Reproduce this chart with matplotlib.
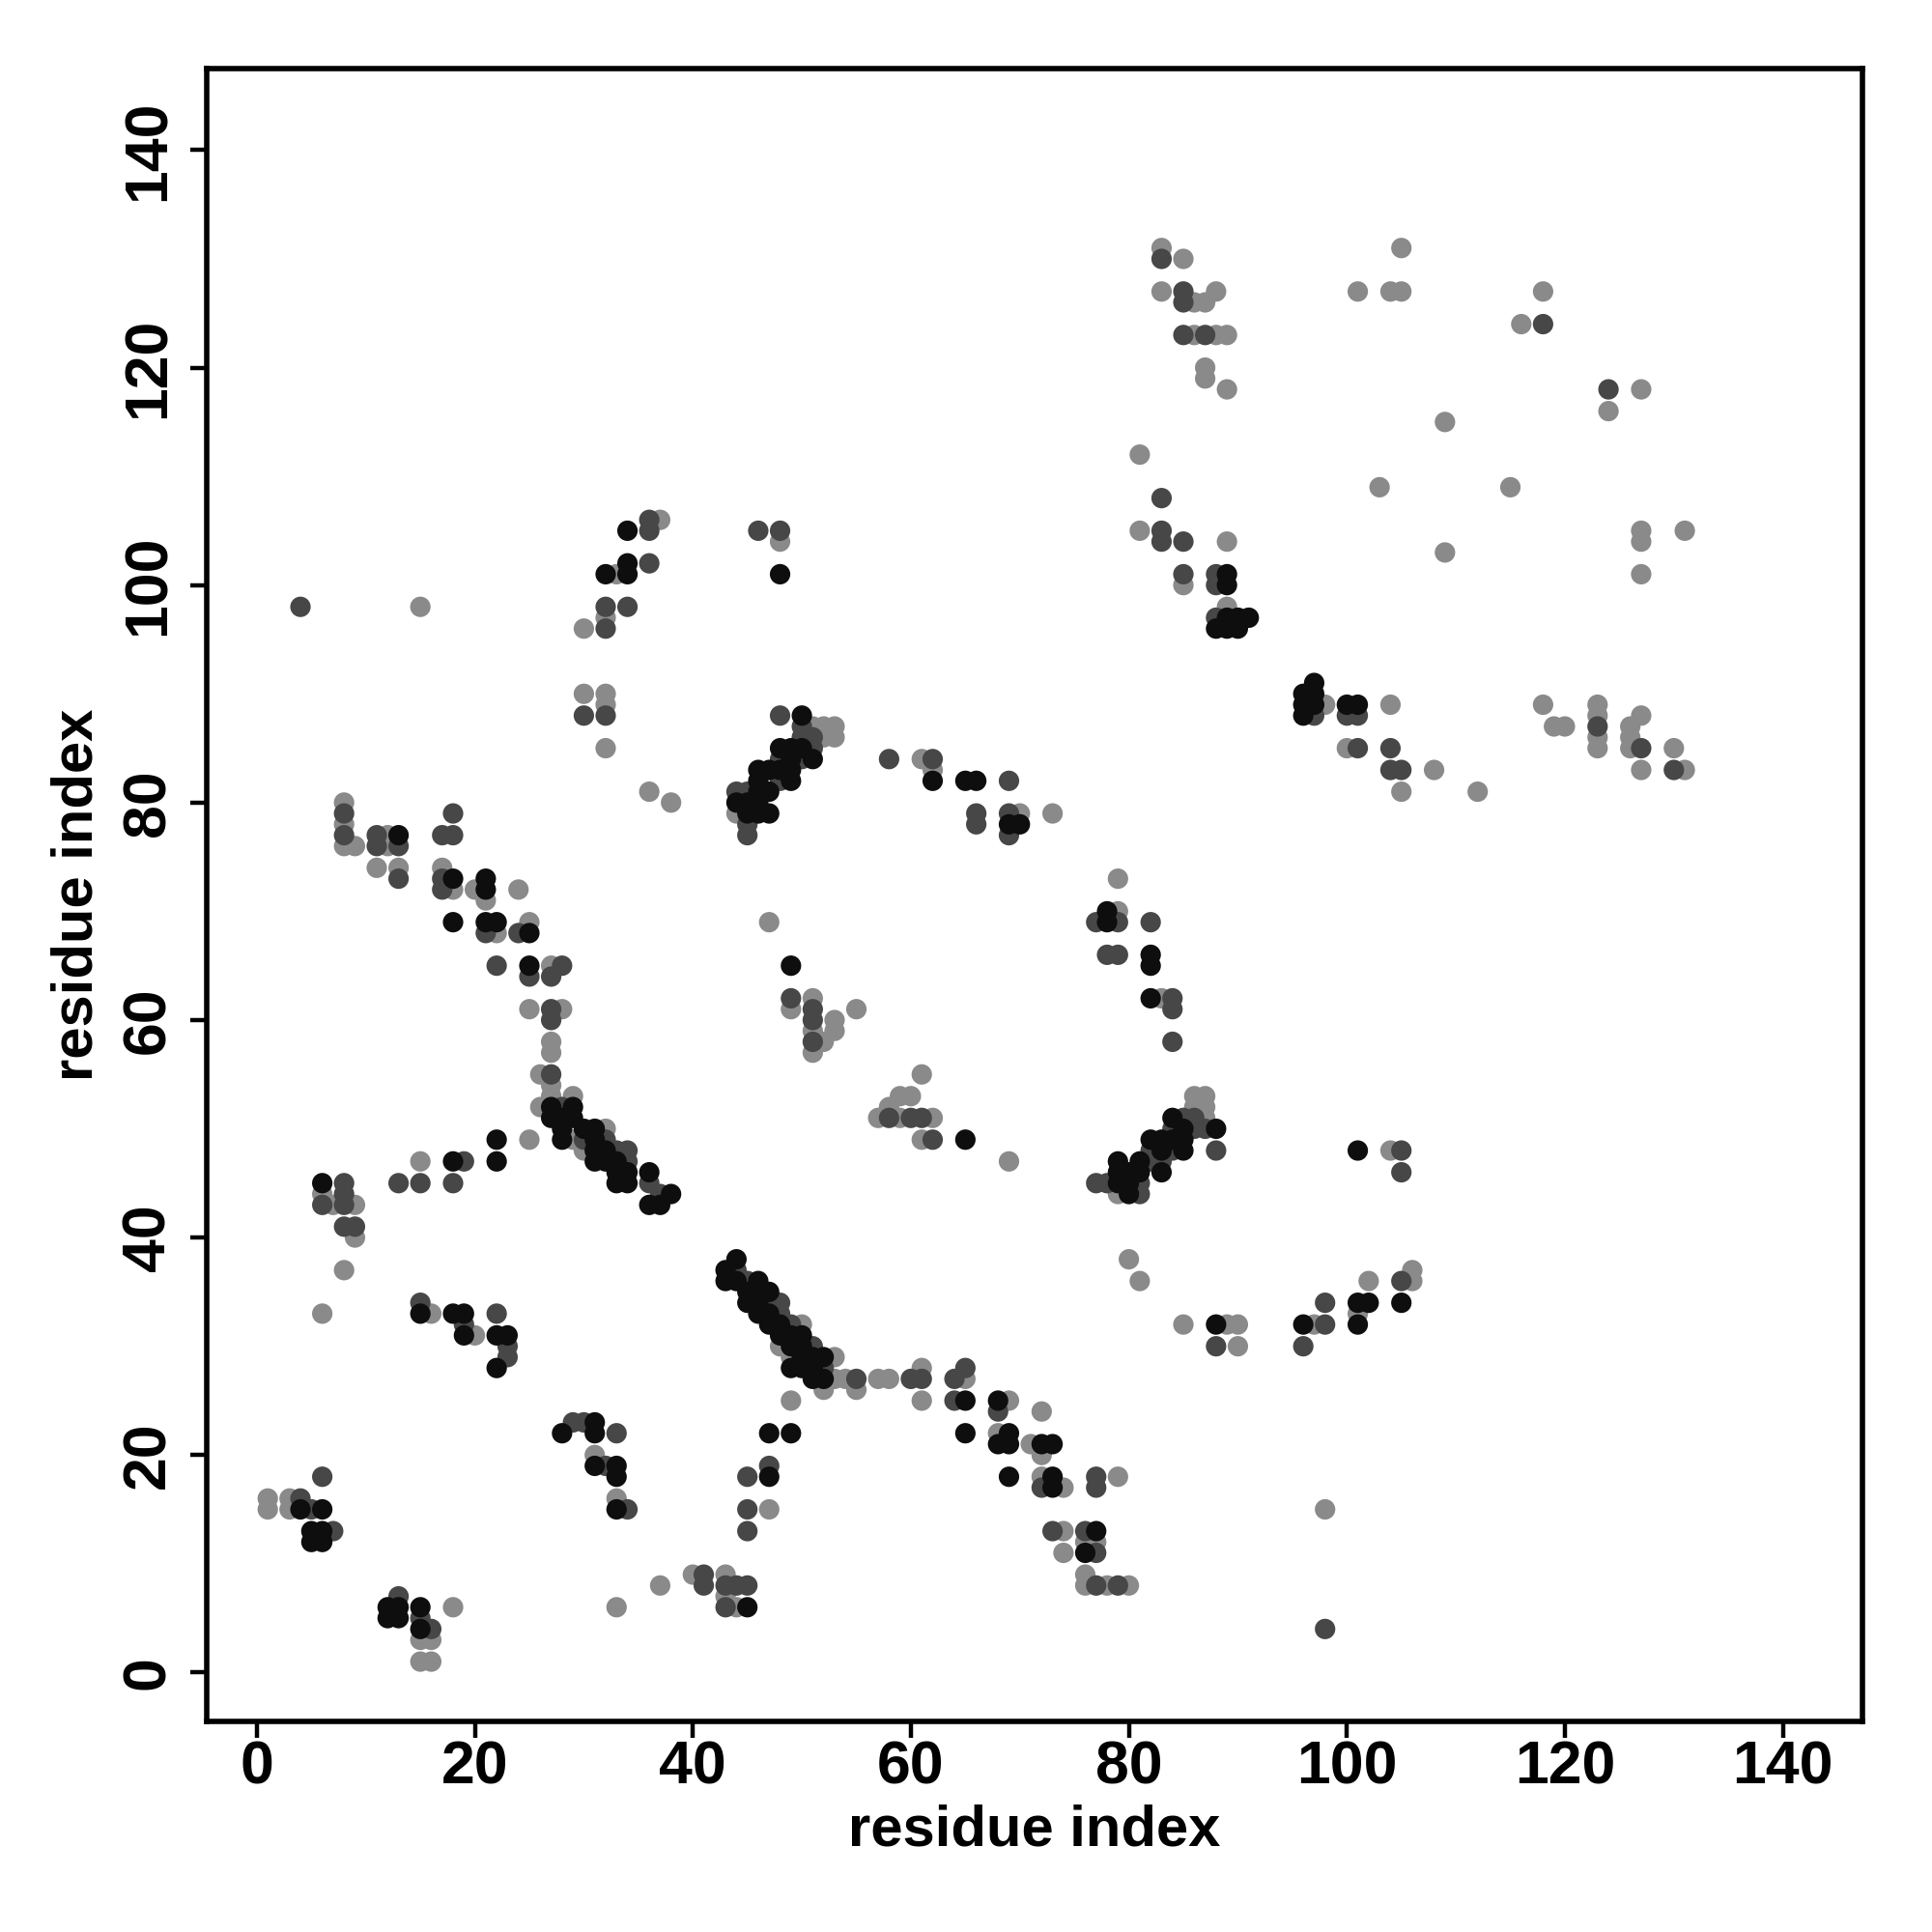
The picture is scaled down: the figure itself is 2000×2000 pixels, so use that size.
import matplotlib
matplotlib.use("Agg")
import matplotlib.pyplot as plt

# contacts (residue i, residue j), grouped by shade of the dot
contacts_black = [
    (4, 15), (6, 15), (5, 13), (6, 13), (5, 12), (6, 12),
    (12, 6), (13, 6), (12, 5), (13, 5), (15, 6), (15, 4),
    (19, 31), (22, 31), (23, 31), (22, 28),
    (28, 22), (31, 23), (31, 22), (31, 19), (33, 19), (33, 18), (33, 15),
    (45, 6), (47, 22), (47, 18), (49, 22),
    (15, 33), (18, 33), (19, 33),
    (44, 38), (43, 37), (43, 36), (44, 36), (46, 36), (45, 35), (46, 35), (47, 35),
    (45, 34), (46, 34), (46, 33), (47, 33), (47, 32), (48, 32), (48, 31), (49, 31),
    (50, 31), (49, 30), (50, 30), (50, 29), (51, 29), (52, 29), (49, 28), (50, 28),
    (51, 28), (51, 27), (52, 27),
    (65, 25), (68, 25), (65, 22), (69, 22), (68, 21), (69, 21), (72, 21), (73, 21),
    (69, 18), (73, 18), (73, 17), (77, 13), (76, 11),
    (27, 52), (29, 52), (27, 51), (28, 51), (29, 51), (28, 50), (30, 50), (31, 50),
    (28, 49), (31, 49), (31, 48), (32, 48), (31, 47), (32, 47), (33, 47), (33, 46),
    (34, 46), (33, 45), (34, 45), (36, 46), (38, 44), (36, 43), (37, 43),
    (22, 49), (22, 47), (18, 47), (6, 45),
    (13, 77), (18, 73), (21, 73), (21, 72), (18, 69), (21, 69), (22, 69), (25, 68), (25, 65),
    (34, 105), (34, 102), (34, 101), (32, 101), (48, 101),
    (50, 88), (48, 85), (49, 85), (50, 85), (49, 84), (51, 84), (46, 83), (47, 83),
    (48, 83), (49, 83), (46, 82), (49, 82), (46, 81), (47, 81), (44, 80), (45, 80),
    (46, 80), (45, 79), (46, 79), (47, 79),
    (62, 82), (65, 82), (66, 82), (69, 78), (70, 78), (78, 70), (78, 69), (82, 66),
    (82, 65), (49, 65), (65, 49), (82, 62),
    (79, 47), (79, 46), (79, 45), (80, 46), (80, 45), (80, 44), (81, 47), (81, 46),
    (82, 49), (83, 49), (83, 48), (83, 46), (84, 51), (84, 49), (85, 50), (85, 49),
    (85, 48), (88, 50),
    (88, 32), (96, 32), (101, 34), (102, 34), (101, 32), (105, 34), (101, 48),
    (89, 97), (90, 97), (91, 97), (88, 96), (89, 96), (90, 96), (97, 91), (96, 90),
    (97, 90), (96, 89), (97, 89), (96, 88), (100, 89), (101, 89), (89, 101), (89, 100),
]

contacts_dark = [
    (4, 16), (5, 15), (6, 18), (7, 13),
    (13, 7), (15, 5), (16, 4),
    (23, 30), (23, 29), (15, 34), (19, 32), (22, 33),
    (29, 23), (30, 23), (33, 22), (32, 19), (34, 15),
    (41, 9), (41, 8), (43, 8), (44, 8), (45, 8), (43, 6),
    (47, 19), (45, 18), (45, 15), (45, 13),
    (44, 37), (45, 36), (47, 34), (48, 34), (48, 33), (49, 32), (51, 30), (52, 28), (55, 27),
    (60, 27), (61, 27), (64, 27), (65, 28), (64, 25), (68, 24), (72, 17), (77, 18),
    (77, 17), (73, 13), (76, 13), (77, 11), (77, 8), (79, 8), (88, 30), (96, 30),
    (25, 64), (27, 64), (27, 61), (27, 60), (27, 55), (28, 52), (30, 49), (32, 49),
    (33, 48), (34, 48), (34, 47), (36, 45), (37, 44), (13, 45), (15, 45), (18, 45),
    (19, 47), (8, 45), (8, 44), (6, 43), (8, 43), (8, 41), (9, 41),
    (4, 98), (32, 98), (34, 98), (32, 96), (30, 88), (32, 88), (8, 79), (8, 77),
    (11, 77), (11, 76), (13, 76), (13, 73), (18, 79), (17, 77), (18, 77), (17, 73),
    (17, 72), (21, 68), (24, 68), (22, 65), (28, 65), (44, 81), (45, 81), (45, 78),
    (45, 77), (48, 88), (48, 82),
    (36, 105), (36, 106), (36, 102), (46, 105), (48, 105),
    (50, 87), (50, 86), (51, 86), (51, 85), (48, 84), (50, 84), (58, 84), (62, 84),
    (69, 82), (66, 79), (66, 78), (69, 79), (69, 77), (77, 69), (79, 69), (82, 69),
    (78, 66), (79, 66),
    (49, 62), (51, 61), (51, 60), (51, 58), (58, 51), (60, 51), (61, 51), (62, 49),
    (84, 62), (84, 61), (84, 58), (77, 45), (78, 45), (81, 45), (81, 44), (82, 48),
    (82, 47), (83, 47), (84, 50), (84, 48), (85, 51), (86, 51), (86, 50), (87, 50), (88, 48),
    (98, 32), (98, 34), (105, 36), (105, 48), (105, 46),
    (97, 88), (100, 88), (101, 88), (101, 85), (104, 85), (104, 83), (105, 83),
    (123, 87), (127, 85), (130, 83), (88, 97),
    (83, 130), (85, 127), (85, 126), (85, 123), (87, 123), (83, 108), (83, 105),
    (83, 104), (85, 104), (85, 101), (88, 101), (88, 100),
    (118, 124), (124, 118), (98, 4),
]

contacts_gray = [
    (1, 16), (1, 15), (3, 16), (3, 15),
    (15, 3), (16, 3), (15, 1), (16, 1), (18, 6),
    (20, 31), (16, 33),
    (31, 20), (33, 16), (33, 6),
    (37, 8), (40, 9), (43, 9), (43, 7), (44, 6),
    (47, 15), (48, 30),
    (49, 29), (50, 32), (53, 29), (53, 27), (52, 26), (54, 27), (55, 26), (49, 25),
    (57, 27), (58, 27), (61, 28), (61, 25), (65, 27), (69, 25), (72, 24), (68, 22),
    (71, 21), (72, 20), (72, 18), (74, 17), (79, 18), (74, 13), (76, 12), (77, 12),
    (74, 11), (76, 9), (76, 8), (78, 8), (80, 8), (85, 32), (89, 32), (90, 32),
    (90, 30), (97, 32), (98, 15),
    (27, 65), (25, 61), (28, 61), (27, 58), (27, 57), (26, 55), (27, 54), (27, 53),
    (26, 52), (29, 53), (32, 50), (29, 49), (30, 48), (25, 49), (15, 47), (6, 44),
    (7, 43), (9, 43), (9, 40), (8, 37), (6, 33),
    (15, 98), (30, 96), (32, 97), (30, 90), (32, 90), (32, 89), (32, 85), (36, 81),
    (38, 80), (47, 69), (8, 80), (8, 78), (8, 76), (9, 76), (12, 77), (12, 76),
    (11, 74), (13, 74), (17, 74), (18, 72), (20, 72), (21, 71), (24, 72), (22, 68),
    (25, 69), (44, 79),
    (37, 106), (33, 101), (48, 104),
    (51, 87), (52, 87), (53, 87), (52, 86), (53, 86), (61, 84), (62, 83), (70, 79),
    (73, 79), (79, 73), (79, 70),
    (51, 62), (49, 61), (53, 60), (55, 61), (51, 59), (53, 59), (52, 58), (51, 57),
    (61, 55), (59, 53), (60, 53), (58, 52), (57, 51), (59, 51), (62, 51), (61, 49),
    (69, 47), (83, 62), (79, 44), (86, 53), (86, 52), (87, 53), (87, 52), (87, 51),
    (80, 38), (81, 36),
    (101, 33), (102, 36), (106, 37), (106, 36), (104, 48),
    (89, 98), (98, 89), (104, 89), (100, 85), (108, 83), (105, 81), (112, 81),
    (118, 89), (119, 87), (120, 87), (123, 89), (123, 88), (123, 86), (123, 85),
    (126, 87), (126, 86), (126, 85), (127, 88), (127, 83), (130, 85), (131, 83),
    (83, 131), (85, 130), (83, 127), (86, 126), (87, 126), (88, 127), (86, 123),
    (88, 123), (89, 123), (87, 120), (87, 119), (89, 118), (81, 112), (81, 105),
    (89, 104), (85, 100),
    (105, 131), (101, 127), (104, 127), (105, 127), (118, 127), (116, 124),
    (127, 118), (124, 116), (109, 115), (103, 109), (115, 109), (109, 103),
    (127, 105), (127, 104), (131, 105), (127, 101),
]

ticks = [0, 20, 40, 60, 80, 100, 120, 140]

plt.rcParams['font.family'] = ['Liberation Sans', 'DejaVu Sans']
plt.rcParams['font.weight'] = 'bold'

fig = plt.figure(figsize=(10, 10), dpi=200)
ax = fig.add_axes([0.107, 0.109, 0.857, 0.8555])

for pts, col in [(contacts_gray, '#8a8a8a'), (contacts_dark, '#474747'), (contacts_black, '#0e0e0e')]:
    xs = [p[0] for p in pts]
    ys = [p[1] for p in pts]
    ax.scatter(xs, ys, s=58, c=col, edgecolors='none', zorder=2)

ax.set_xlim(-4.6, 147.3)
ax.set_ylim(-4.5, 147.5)
ax.set_xticks(ticks)
ax.set_yticks(ticks)
ax.set_xticklabels([str(t) for t in ticks], fontsize=22.5, fontweight='bold')
ax.set_yticklabels([str(t) for t in ticks], fontsize=22.5, fontweight='bold',
                   rotation=90, va='center')
ax.tick_params(length=6, width=1.6)
ax.tick_params(axis='x', pad=0.5)
ax.tick_params(axis='y', pad=5)
for sp in ax.spines.values():
    sp.set_linewidth(2)
ax.set_xlabel('residue index', fontsize=21.5, fontweight='bold', labelpad=3)
ax.set_ylabel('residue index', fontsize=21.5, fontweight='bold', labelpad=6)

fig.savefig('out.png', dpi=200, facecolor='white')
